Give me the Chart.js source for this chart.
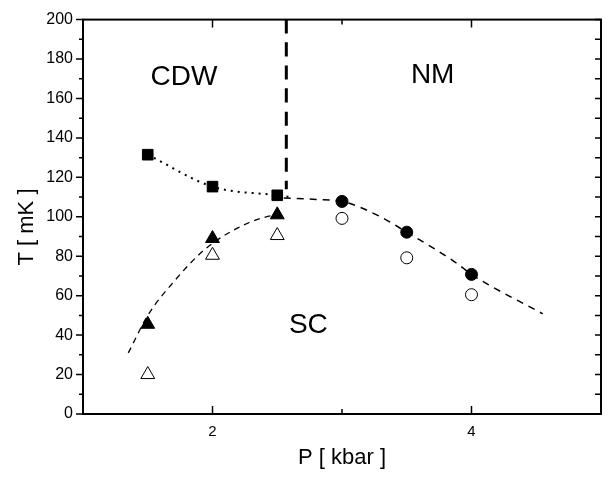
<!DOCTYPE html>
<html>
<head>
<meta charset="utf-8">
<script src="https://cdn.jsdelivr.net/npm/chart.js@4.4.0/dist/chart.umd.min.js"></script>
<style>
  html, body { margin: 0; padding: 0; background: #fff; }
</style>
</head>
<body>
<canvas id="phaseChart" width="610" height="480"></canvas>
<script>
// measured points
const squareP = [1.5, 2, 2.5];
const squareT = [131.5, 115.3, 110.9];
const triP = [1.5, 2, 2.5];
const triFilledT = [45.5, 89, 101];
const triOpenT = [20, 80.5, 90.5];
const circP = [3, 3.5, 4];
const circFilledT = [107.8, 92.2, 70.8];
const circOpenT = [99.2, 79.2, 60.5];

// guide lines
const dotGuideP = [1.5, 2, 2.5, 2.6];
const dotGuideT = [131.5, 115.3, 110.9, 110];
const scGuideP = [1.35, 1.5, 1.7, 1.95, 2.28, 2.5];
const scGuideT = [31, 50, 67, 84, 97, 101.5];
const nmGuideP = [2.55, 2.8, 3, 3.28, 3.5, 3.87, 4, 4.55];
const nmGuideT = [109.5, 108.8, 107.8, 100.6, 92.2, 77.2, 70.8, 50.8];
const boundaryP = [2.57, 2.57];
const boundaryT = [200, 114];

// ticks
const xMajor = [2, 4];
const xMinor = [3];
const yMajor = [0, 20, 40, 60, 80, 100, 120, 140, 160, 180, 200];
const yMinor = [10, 30, 50, 70, 90, 110, 130, 150, 170, 190];

// region names
const regionNames = ['CDW', 'NM', 'SC'];
const regionP = [1.78, 3.70, 2.74];
const regionT = [171, 172, 45];

const FONT = '"Liberation Sans", Arial, sans-serif';

function pts(xs, ys) {
    return xs.map((x, i) => ({x: x, y: ys[i]}));
}

function markers(xs, ys, style, radius, fill) {
    return {
        data: pts(xs, ys),
        showLine: false,
        pointStyle: style,
        pointRadius: radius,
        backgroundColor: fill,
        borderColor: '#000',
        borderWidth: 1
    };
}

function guide(xs, ys, dash, width) {
    return {
        data: pts(xs, ys),
        showLine: true,
        pointRadius: 0,
        borderColor: '#000',
        borderWidth: width,
        borderDash: dash,
        cubicInterpolationMode: 'monotone',
        fill: false
    };
}

const framePlugin = {
    id: 'frame',
    afterDatasetsDraw(chart) {
        const ctx = chart.ctx;
        const a = chart.chartArea;
        const xs = chart.scales.x;
        const ys = chart.scales.y;
        ctx.save();
        ctx.strokeStyle = '#000';
        ctx.lineWidth = 2;
        ctx.strokeRect(a.left, a.top, a.right - a.left, a.bottom - a.top);
        ctx.lineWidth = 1.5;
        ctx.beginPath();
        const xTick = (v, len) => {
            const px = xs.getPixelForValue(v);
            ctx.moveTo(px, a.bottom);
            ctx.lineTo(px, a.bottom - len);
            ctx.moveTo(px, a.top);
            ctx.lineTo(px, a.top + len);
        };
        const yTick = (v, len) => {
            const py = ys.getPixelForValue(v);
            ctx.moveTo(a.left, py);
            ctx.lineTo(a.left - len, py);
            ctx.moveTo(a.right, py);
            ctx.lineTo(a.right - 6, py);
        };
        xMajor.forEach(v => xTick(v, 8));
        xMinor.forEach(v => xTick(v, 5));
        yMajor.forEach(v => yTick(v, 7));
        yMinor.forEach(v => yTick(v, 4));
        ctx.stroke();

        // region names
        ctx.fillStyle = '#000';
        ctx.textAlign = 'center';
        ctx.textBaseline = 'middle';
        ctx.font = '28px ' + FONT;
        regionNames.forEach((name, i) => {
            ctx.fillText(name, xs.getPixelForValue(regionP[i]), ys.getPixelForValue(regionT[i]));
        });

        // axis titles
        ctx.font = '22px ' + FONT;
        ctx.fillText('P [ kbar ]', (a.left + a.right) / 2, 458);
        ctx.translate(27, 227);
        ctx.rotate(-Math.PI / 2);
        ctx.fillText('T [ mK ]', 0, 0);
        ctx.restore();
    }
};

new Chart(document.getElementById('phaseChart').getContext('2d'), {
    type: 'scatter',
    data: {
        datasets: [
            markers(squareP, squareT, 'rect', 7.5, '#000'),
            markers(circP, circFilledT, 'circle', 6, '#000'),
            markers(circP, circOpenT, 'circle', 6, '#fff'),
            markers(triP, triFilledT, 'triangle', 8, '#000'),
            markers(triP, triOpenT, 'triangle', 8, '#fff'),
            guide(dotGuideP, dotGuideT, [2, 5], 2),
            guide(scGuideP, scGuideT, [6, 5], 1.3),
            guide(nmGuideP, nmGuideT, [7, 6], 1.5),
            guide(boundaryP, boundaryT, [14, 9], 3)
        ]
    },
    options: {
        responsive: false,
        animation: false,
        events: [],
        layout: { padding: { top: 15, right: 7, left: 0, bottom: 0 } },
        plugins: {
            legend: { display: false },
            tooltip: { enabled: false }
        },
        scales: {
            x: {
                type: 'linear',
                min: 1,
                max: 5,
                grid: { display: false, drawTicks: false },
                border: { display: false },
                afterFit: s => { s.height = 66; },
                ticks: {
                    stepSize: 1,
                    padding: 9,
                    color: '#000',
                    font: { family: FONT, size: 15 },
                    callback: v => xMajor.includes(v) ? String(v) : ''
                }
            },
            y: {
                type: 'linear',
                min: 0,
                max: 200,
                grid: { display: false, drawTicks: false },
                border: { display: false },
                afterFit: s => { s.width = 83; },
                ticks: {
                    stepSize: 20,
                    padding: 10,
                    color: '#000',
                    font: { family: FONT, size: 16 }
                }
            }
        }
    },
    plugins: [framePlugin]
});
</script>
</body>
</html>
